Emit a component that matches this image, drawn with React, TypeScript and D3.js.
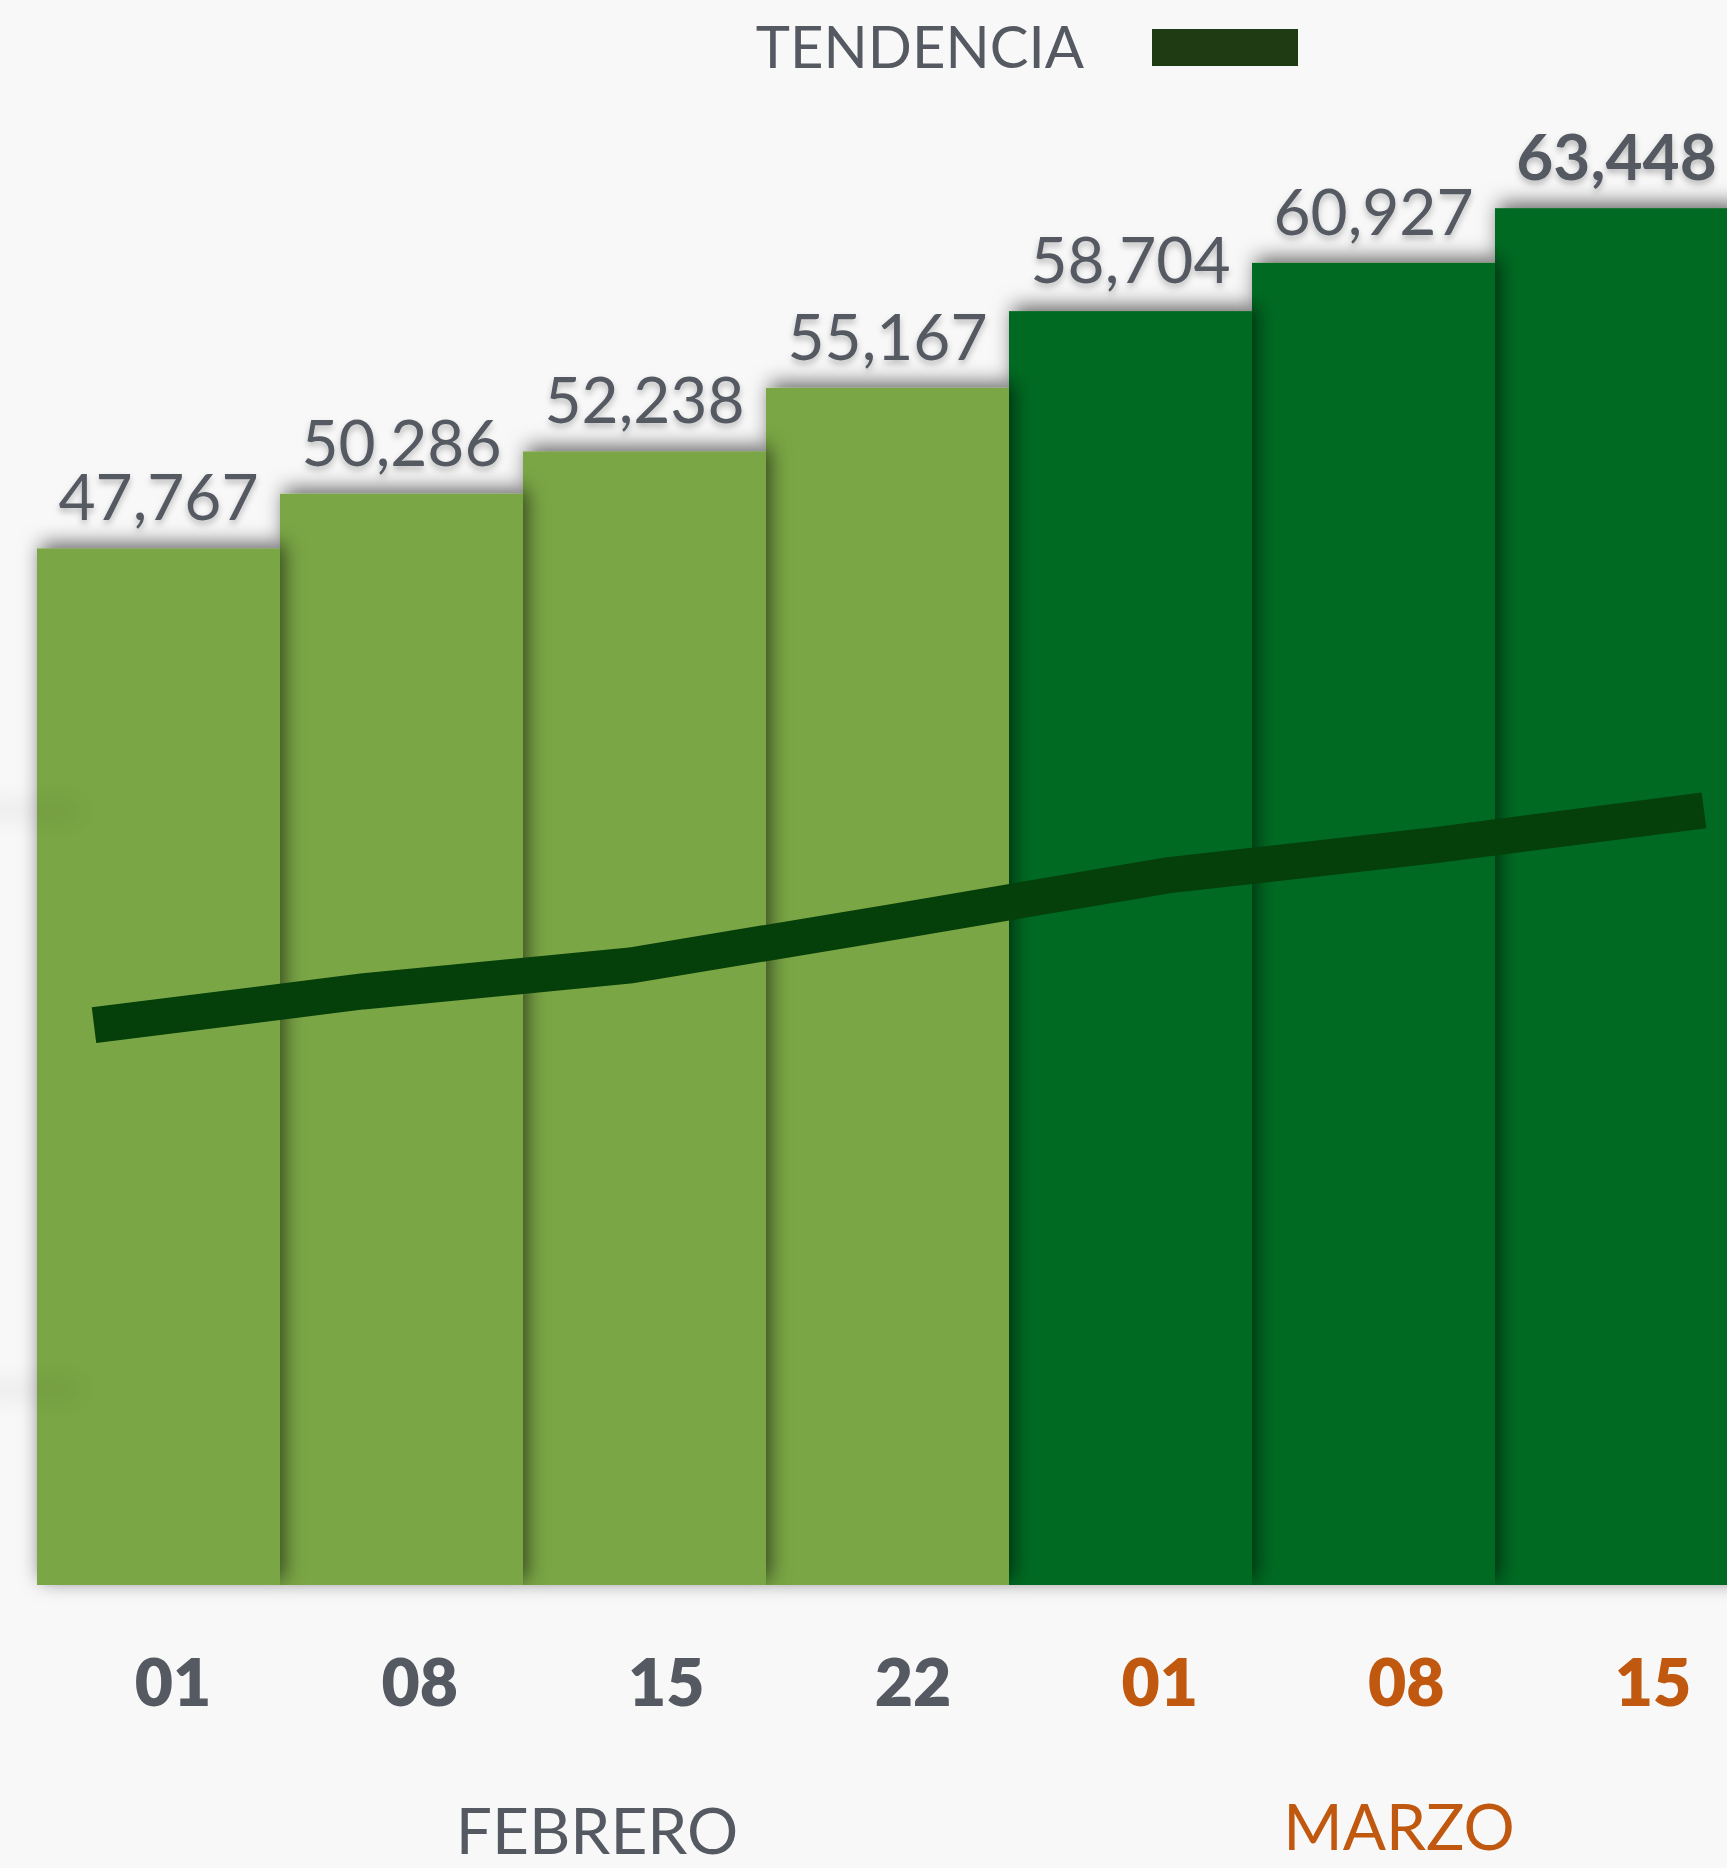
import React, { useEffect } from 'react';
import * as d3 from 'd3';

// weekly totals (Feb 01 .. Mar 15)
const DATES = ['01', '08', '15', '22', '01', '08', '15'];
const BAR_MONTH = [0, 0, 0, 0, 1, 1, 1];
const MONTHS = ['FEBRERO', 'MARZO'];
const VALUES = [47767, 50286, 52238, 55167, 58704, 60927, 63448];
const TREND = [25800, 27350, 28550, 30600, 32700, 34100, 35700];
const GHOST_TICKS = [35700, 9000];

const W = 1727;
const H = 1868;
const FONT = 'Lato, "Open Sans", sans-serif';
const GRAY = '#555a62';
const ORANGE = '#c0590f';
const LIGHT = '#7aa644';
const DARK = '#006b22';
const LINE = '#053f0a';
const SWATCH = '#1f3b13';

export default function App() {
    useEffect(() => {
        document.body.style.margin = '0';
        document.body.style.background = '#f8f8f8';
    }, []);

    const x = d3.scaleBand<number>()
        .domain(d3.range(VALUES.length))
        .range([37, 37 + 243 * VALUES.length])
        .paddingInner(0);

    const y = d3.scaleLinear()
        .domain([0, 70000])
        .range([1585, 66]);

    const xTrend = d3.scalePoint<number>()
        .domain(d3.range(TREND.length))
        .range([94, 1704]);

    const xTick = d3.scalePoint<number>()
        .domain(d3.range(DATES.length))
        .range([173, 1653]);

    const xMonth = d3.scaleBand<string>()
        .domain(MONTHS)
        .range([196, 1800]);

    const line = d3.line<number>()
        .x((d, i) => xTrend(i) as number)
        .y(d => y(d));

    const last = VALUES.length - 1;
    const order = d3.range(VALUES.length).reverse();

    return (
        <svg width={W} height={H} style={{ display: 'block', background: '#f8f8f8' }}>
            <defs>
                <filter id="barShadow" x="-20%" y="-20%" width="140%" height="140%">
                    <feDropShadow dx="4" dy="-5" stdDeviation="10" floodColor="#000" floodOpacity="0.6" />
                </filter>
                <filter id="textShadow" x="-10%" y="-20%" width="120%" height="150%">
                    <feDropShadow dx="0" dy="4" stdDeviation="3" floodColor="#000" floodOpacity="0.25" />
                </filter>
                <filter id="ghost" x="-50%" y="-300%" width="200%" height="700%">
                    <feGaussianBlur stdDeviation="12" />
                </filter>
            </defs>

            {/* legend */}
            <text x={1084} y={68} textAnchor="end" fontFamily={FONT} fontSize={58} fill={GRAY}>TENDENCIA</text>
            <rect x={1152} y={29} width={146} height={37} fill={SWATCH} />

            {/* bars, right to left so each shadow falls on its right neighbour */}
            {order.map(i => (
                <rect
                    key={i}
                    x={x(i)}
                    y={y(VALUES[i])}
                    width={x.bandwidth()}
                    height={y(0) - y(VALUES[i])}
                    fill={BAR_MONTH[i] === 0 ? LIGHT : DARK}
                    filter="url(#barShadow)"
                />
            ))}

            {/* faint smudges at the left edge */}
            {GHOST_TICKS.map(v => (
                <rect key={v} x={-20} y={y(v) - 10} width={100} height={20} fill="#000" opacity={0.05} filter="url(#ghost)" />
            ))}

            {/* value labels */}
            {VALUES.map((v, i) => (
                <text
                    key={i}
                    x={(x(i) as number) + x.bandwidth() / 2}
                    y={y(v) - 28}
                    textAnchor="middle"
                    fontFamily={FONT}
                    fontSize={64}
                    fontWeight={i === last ? 700 : 400}
                    fill={GRAY}
                    filter="url(#textShadow)"
                >
                    {d3.format(',')(v)}
                </text>
            ))}

            {/* trend */}
            <path d={line(TREND) || ''} fill="none" stroke={LINE} strokeWidth={36} strokeLinejoin="miter" strokeLinecap="butt" />

            {/* date ticks */}
            {DATES.map((d, i) => (
                <text
                    key={i}
                    x={xTick(i)}
                    y={1706}
                    textAnchor="middle"
                    fontFamily={FONT}
                    fontSize={66}
                    fontWeight={800}
                    fill={BAR_MONTH[i] === 0 ? GRAY : ORANGE}
                >
                    {d}
                </text>
            ))}

            {/* months */}
            {MONTHS.map((m, i) => (
                <text
                    key={m}
                    x={(xMonth(m) as number) + xMonth.bandwidth() / 2}
                    y={i === 0 ? 1854 : 1850}
                    textAnchor="middle"
                    fontFamily={FONT}
                    fontSize={64}
                    fill={i === 0 ? GRAY : ORANGE}
                >
                    {m}
                </text>
            ))}
        </svg>
    );
}
